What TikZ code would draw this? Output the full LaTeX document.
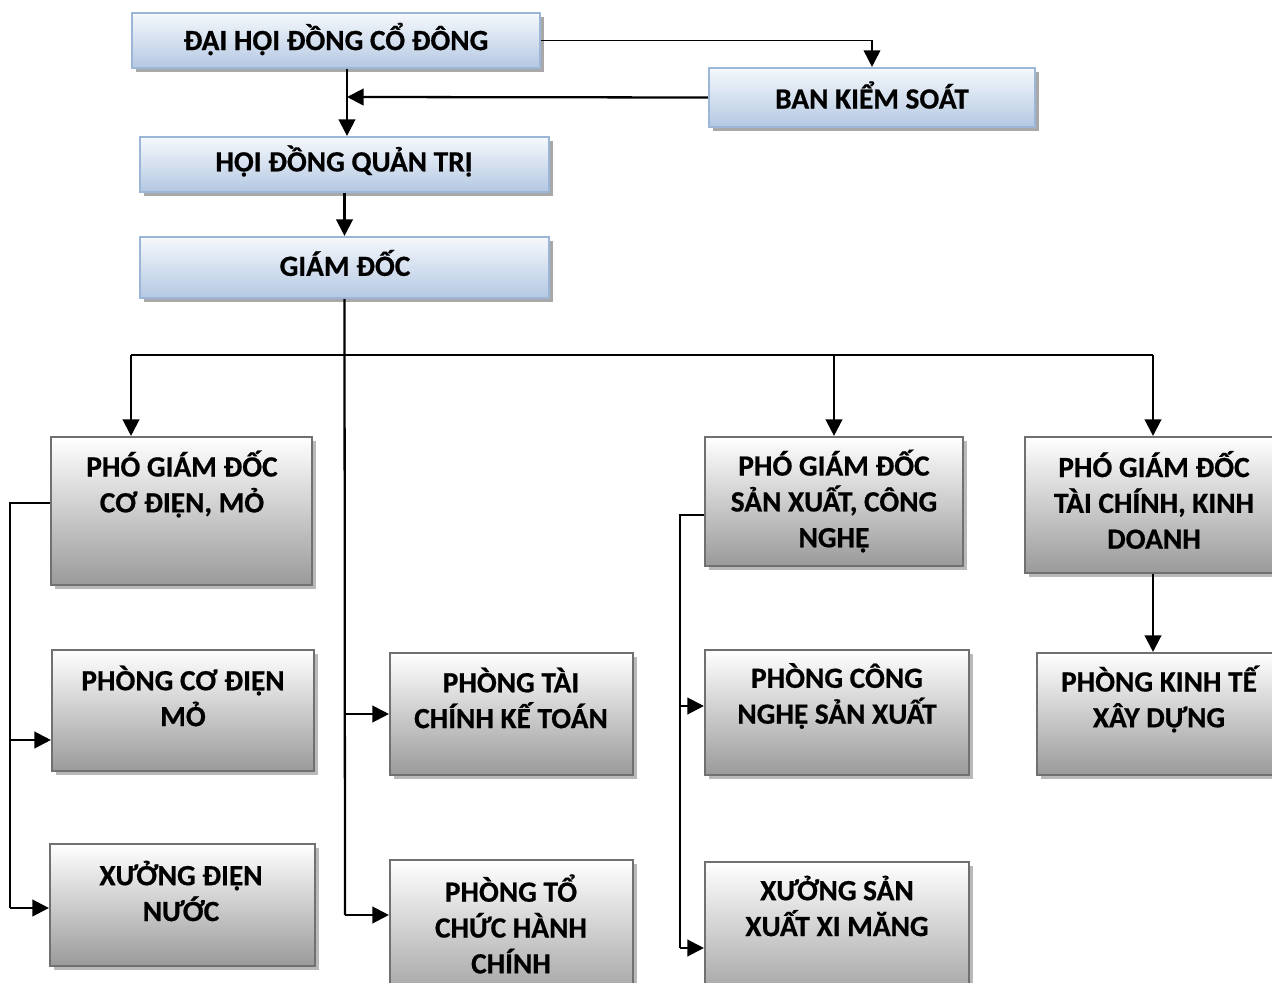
\documentclass[tikz,border=0pt]{standalone}
\usepackage{fontspec}
\setmainfont{Carlito}[BoldFeatures={FakeBold=0.6}]
\usetikzlibrary{arrows.meta,shadows,fit}

\definecolor{bluetop}{HTML}{F5F8FC}
\definecolor{bluebot}{HTML}{B4C8E2}
\definecolor{blueline}{HTML}{9CB6D8}
\definecolor{graybot}{HTML}{9A9A9A}
\definecolor{grayline}{HTML}{707070}
\definecolor{shadowc}{HTML}{A8A8A8}

\tikzset{
  bluebox/.style={draw=blueline, line width=1.2pt, inner sep=0pt,
    top color=bluetop, bottom color=bluebot,
    drop shadow={shadow xshift=2.4pt, shadow yshift=-2.4pt, fill=shadowc, opacity=1}},
  graybox/.style={draw=grayline, line width=1.2pt, inner sep=0pt,
    top color=white, bottom color=graybot,
    drop shadow={shadow xshift=2.4pt, shadow yshift=-2.4pt, fill=shadowc!80, opacity=1}},
  lbl/.style={font=\fontsize{16.7}{20.4}\selectfont\bfseries, align=center, inner sep=0pt},
  link/.style={line width=1.3pt},
  arr/.style={line width=1.3pt, -{Triangle[length=9.5pt,width=9.5pt]}},
}

\begin{document}
\begin{tikzpicture}[x=0.02cm,y=-0.02cm]
\useasboundingbox (0,0) rectangle (1272,983);

%Boxes
\node[bluebox, fit={(132,13) (540,68)}]   (dhd)   {};
\node[bluebox, fit={(709,68) (1035,127)}] (bks)   {};
\node[bluebox, fit={(140,137) (549,192)}] (hdqt)  {};
\node[bluebox, fit={(140,237) (549,298)}] (gd)    {};
\node[graybox, fit={(51,437) (312,585)}]  (pgd1)  {};
\node[graybox, fit={(52,650) (314,771)}]  (pcdm)  {};
\node[graybox, fit={(50,844) (315,966)}]  (xdn)   {};
\node[graybox, fit={(390,653) (633,775)}] (ptckt) {};
\node[graybox, fit={(390,860) (633,1010)}] (ptchc) {};
\node[graybox, fit={(705,437) (963,566)}] (pgdsx) {};
\node[graybox, fit={(705,650) (969,775)}] (pcnsx) {};
\node[graybox, fit={(705,862) (969,1010)}] (xsx)  {};
\node[graybox, fit={(1025,437) (1282,573)}] (pgdtc) {};
\node[graybox, fit={(1037,653) (1282,775)}] (pkt)  {};

%Texts
\node[lbl] (dhd-t)   at (336,39)   {ĐẠI HỘI ĐỒNG CỔ ĐÔNG};
\node[lbl] (bks-t)   at (872,95)   {BAN KIỂM SOÁT};
\node[lbl] (hdqt-t)  at (344,161)  {HỘI ĐỒNG QUẢN TRỊ};
\node[lbl] (gd-t)    at (345,263)  {GIÁM ĐỐC};
\node[lbl] (pgd1-t)  at (182,484)  {PHÓ GIÁM ĐỐC\\CƠ ĐIỆN, MỎ};
\node[lbl] (pcdm-t)  at (183,696)  {PHÒNG CƠ ĐIỆN\\MỎ};
\node[lbl] (xdn-t)   at (181,891)  {XƯỞNG ĐIỆN\\NƯỚC};
\node[lbl] (ptckt-t) at (511,698)  {PHÒNG TÀI\\CHÍNH KẾ TOÁN};
\node[lbl] (ptchc-t) at (511,924)  {PHÒNG TỔ\\CHỨC HÀNH\\CHÍNH};
\node[lbl] (pgdsx-t) at (834,501)  {PHÓ GIÁM ĐỐC\\SẢN XUẤT, CÔNG\\NGHỆ};
\node[lbl] (pcnsx-t) at (837,696)  {PHÒNG CÔNG\\NGHỆ SẢN XUẤT};
\node[lbl] (xsx-t)   at (837,906)  {XƯỞNG SẢN\\XUẤT XI MĂNG};
\node[lbl] (pgdtc-t) at (1154,500) {PHÓ GIÁM ĐỐC\\TÀI CHÍNH, KINH\\DOANH};
\node[lbl] (pkt-t)   at (1159,699) {PHÒNG KINH TẾ\\XÂY DỰNG};

%Joints
\coordinate (j1)   at (347,97);
\coordinate (gdb)  at (345,915);
\coordinate (busl) at (131,355);
\coordinate (busr) at (1153,355);
\coordinate (lt)   at (10,503);
\coordinate (la)   at (10,740);
\coordinate (lb)   at (10,908);
\coordinate (mt)   at (680,515);
\coordinate (ma)   at (680,706);
\coordinate (mb)   at (680,948);

%Lines
\draw[line width=1pt, -{Triangle[length=9.5pt,width=9.5pt]}] (dhd.east) -| (bks.north);
\draw[arr] (bks.west) -- (j1);
\draw[arr] (dhd.south -| j1) -- (hdqt.north -| j1);
\draw[arr] (hdqt.south) -- (gd.north);
\draw[link] (gd.south) -- (gdb);
\draw[arr] (gd.south |- ptckt.west) -- (ptckt.west);
\draw[arr] (gdb) -- (gdb -| ptchc.west);
\draw[line width=0.9pt] (busl) -- (busr);
\draw[arr] (busl) -- (busl |- pgd1.north);
\draw[arr] (pgdsx.north |- busl) -- (pgdsx.north);
\draw[arr] (busr) -- (busr |- pgdtc.north);
\draw[arr] (pgdtc.south -| busr) -- (pkt.north -| busr);
\draw[link] (pgd1.west |- lt) -- (lt) -- (lb);
\draw[arr] (la) -- (la -| pcdm.west);
\draw[arr] (lb) -- (lb -| xdn.west);
\draw[link] (pgdsx.west |- mt) -- (mt) -- (mb);
\draw[arr] (ma) -- (ma -| pcnsx.west);
\draw[arr] (mb) -- (mb -| xsx.west);
\end{tikzpicture}
\end{document}
